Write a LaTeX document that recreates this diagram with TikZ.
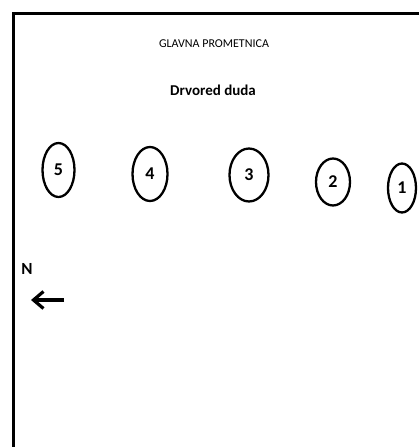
\documentclass[tikz,border=0pt]{standalone}
\usepackage{fontspec}
\setmainfont{Carlito}
\usetikzlibrary{shapes.geometric,arrows.meta}
\begin{document}
\begin{tikzpicture}[x=1pt,y=-1pt]
    \tikzstyle{tree}=[draw=black,line width=2.3pt,ellipse,inner sep=0pt,font=\fontsize{18}{20}\selectfont\bfseries]
    \useasboundingbox (0,0) rectangle (419,447);
    \draw[line width=3pt] (13.5,447) -- (13.5,13.5) -- (419,13.5);
    \node (road) at (214,44) {\fontsize{12}{14}\selectfont GLAVNA PROMETNICA};
    \node[font=\fontsize{15}{17}\selectfont\bfseries] (avenue) at (213,90) {Drvored duda};
    \node[tree,minimum width=32pt,minimum height=54pt] (t5) at (58.5,170) {5};
    \node[tree,minimum width=35pt,minimum height=54pt] (t4) at (150,174) {4};
    \node[tree,minimum width=39pt,minimum height=53pt] (t3) at (249,175) {3};
    \node[tree,minimum width=34pt,minimum height=47pt] (t2) at (333,182) {2};
    \node[tree,minimum width=28pt,minimum height=49pt] (t1) at (402,188) {1};
    \node[font=\fontsize{17}{19}\selectfont\bfseries] (north) at (27,269) {N};
    \coordinate (tail) at (64,300);
    \coordinate (tip) at (31,300);
    \draw[line width=3.2pt,-{Straight Barb[length=10pt,width=17pt]}] (tail) -- (tip);
\end{tikzpicture}
\end{document}
